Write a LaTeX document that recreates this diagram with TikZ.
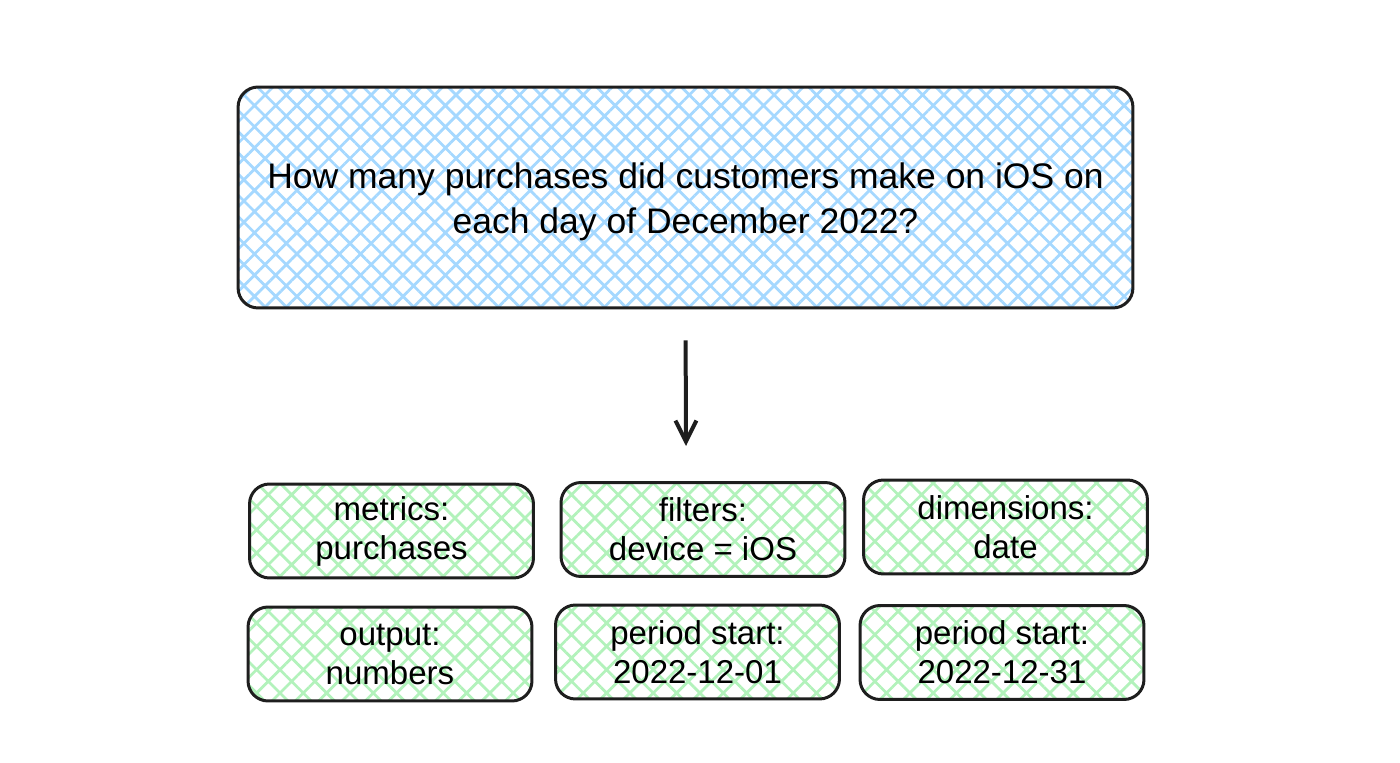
\documentclass[tikz,border=0pt]{standalone}
\usepackage{fontspec}
\setmainfont{Liberation Sans}
\usetikzlibrary{arrows.meta,patterns.meta}
\definecolor{inkline}{HTML}{1E1E1E}
\definecolor{hatchblue}{HTML}{A5D8FF}
\definecolor{hatchgreen}{HTML}{B2F2BB}
\tikzset{
  sketchbox/.style={draw=inkline, line width=0.06cm, rounded corners=0.4cm, align=center, inner sep=0pt},
  questionbox/.style={sketchbox, minimum width=17.9cm, minimum height=4.42cm,
    pattern={Hatch[angle=45, distance=0.3cm, line width=0.055cm]}, pattern color=hatchblue,
    font=\fontsize{20.2}{25.5}\selectfont},
  slotbox/.style={sketchbox, minimum width=5.68cm, minimum height=1.88cm,
    pattern={Hatch[angle=45, distance=0.33cm, line width=0.055cm]}, pattern color=hatchgreen,
    font=\fontsize{18.8}{22.2}\selectfont},
  sketcharrow/.style={draw=inkline, line width=0.08cm, -{Straight Barb[length=0.42cm, width=0.42cm, line width=0.08cm]}}
}
\begin{document}
\begin{tikzpicture}[x=0.02cm, y=-0.02cm]
  \useasboundingbox (0,0) rectangle (1400,763);

  \node[questionbox] (question) at (685.5,197.5) {\rule{0pt}{0.68cm}How many purchases did customers make on iOS on\\each day of December 2022?};

  \node[slotbox] (metrics) at (391.5,531) {metrics:\\purchases};
  \node[slotbox] (filters) at (703,529.5) {filters:\\device = iOS};
  \node[slotbox] (dimensions) at (1005.5,527) {dimensions:\\date};
  \node[slotbox] (output) at (390,654) {output:\\numbers};
  \node[slotbox] (periodstart) at (697.5,652) {period start:\\2022-12-01};
  \node[slotbox] (periodend) at (1002,652.5) {period start:\\2022-12-31};

  \coordinate (arrowend) at (686,446);
  \draw[sketcharrow, shorten <=0.62cm] (question.south) -- (arrowend);
\end{tikzpicture}
\end{document}
